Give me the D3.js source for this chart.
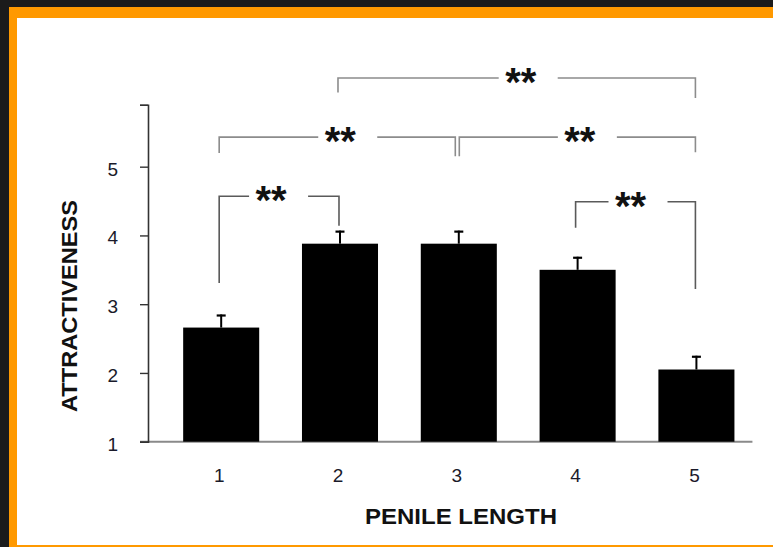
<!DOCTYPE html>
<html><head><meta charset="utf-8">
<script src="https://cdn.jsdelivr.net/npm/d3@7"></script>
<style>html,body{margin:0;padding:0;background:#1b1b1b;}svg{display:block;}</style>
</head><body>
<script>
const categories = ["1","2","3","4","5"];
const values = [2.66, 3.88, 3.88, 3.50, 2.05];
const errors = [0.19, 0.19, 0.19, 0.19, 0.20];
const yTicks = [1, 2, 3, 4, 5];
const xLabel = "PENILE LENGTH";
const yLabel = "ATTRACTIVENESS";
// significance brackets: from category, to category, bracket level, leg ends
const brFrom   = ["2", "1", "3", "1", "4"];
const brTo     = ["5", "3", "5", "2", "5"];
const brLevel  = [6.29, 5.43, 5.43, 4.57, 4.49];
const brLegA   = [6.08, 5.20, 5.15, 3.31, 4.11];
const brLegB   = [6.00, 5.15, 5.21, 4.14, 3.22];
const brLabel  = ["**", "**", "**", "**", "**"];

const W = 773, H = 547;
const svg = d3.select("body").append("svg").attr("width", W).attr("height", H);
svg.append("rect").attr("width", W).attr("height", H).attr("fill", "#1b1b1b");
svg.append("rect").attr("x", 9).attr("y", 7).attr("width", W - 9).attr("height", H - 7).attr("fill", "#ff9900");
svg.append("rect").attr("x", 17).attr("y", 18).attr("width", W - 17).attr("height", 527).attr("fill", "#ffffff");

const font = "'Liberation Sans', Arial, Helvetica, sans-serif";
const axisX = 148;
const x = d3.scaleBand().domain(categories).range([axisX, 769.6]).paddingInner(0.36).paddingOuter(0.296);
const y = d3.scaleLinear().domain([1, 5.9]).range([441.7, 104.8]);
const cx = c => x(c) + x.bandwidth() / 2;

// x axis baseline
svg.append("line").attr("x1", axisX - 8).attr("x2", cx("5") + x.bandwidth() / 2 + 18)
  .attr("y1", y(1)).attr("y2", y(1)).attr("stroke", "#8a8a8a").attr("stroke-width", 2);

// y axis
const yAxis = d3.axisLeft(y).tickValues(yTicks.concat([5.9])).tickSize(8).tickPadding(22)
  .tickFormat(d => yTicks.includes(d) ? d3.format("d")(d) : "");
const ga = svg.append("g").attr("transform", `translate(${axisX},0)`).call(yAxis);
ga.select(".domain").attr("stroke", "#333").attr("stroke-width", 1.6);
ga.selectAll(".tick line").attr("stroke", "#333").attr("stroke-width", 1.4);
ga.selectAll(".tick text").attr("font-family", font).attr("font-size", 19).attr("fill", "#1a1a2a").attr("dy", "0.45em");

// bars
svg.selectAll("rect.bar").data(categories).join("rect").attr("class", "bar")
  .attr("x", c => x(c)).attr("width", x.bandwidth())
  .attr("y", (c, i) => y(values[i])).attr("height", (c, i) => y(1) - y(values[i]))
  .attr("fill", "#000");

// error bars
categories.forEach((c, i) => {
  const top = y(values[i] + errors[i]);
  svg.append("line").attr("x1", cx(c)).attr("x2", cx(c)).attr("y1", y(values[i])).attr("y2", top)
    .attr("stroke", "#000").attr("stroke-width", 2);
  svg.append("line").attr("x1", cx(c) - 4.5).attr("x2", cx(c) + 4.5).attr("y1", top + 1).attr("y2", top + 1)
    .attr("stroke", "#000").attr("stroke-width", 2.2);
});

// x tick labels
svg.selectAll("text.xt").data(categories).join("text").attr("class", "xt")
  .attr("x", c => cx(c) - 2).attr("y", 482).attr("text-anchor", "middle")
  .attr("font-family", font).attr("font-size", 19).attr("fill", "#1a1a2a").text(c => c);

// axis titles
svg.append("text").attr("x", 461).attr("y", 523.5).attr("text-anchor", "middle")
  .attr("font-family", font).attr("font-weight", "bold").attr("font-size", 21.5).attr("fill", "#111")
  .attr("textLength", 192).attr("lengthAdjust", "spacingAndGlyphs").text(xLabel);
svg.append("text").attr("transform", "translate(77,306) rotate(-90)").attr("text-anchor", "middle")
  .attr("font-family", font).attr("font-weight", "bold").attr("font-size", 21.5).attr("fill", "#111")
  .attr("textLength", 212).attr("lengthAdjust", "spacingAndGlyphs").text(yLabel);

// significance brackets
const labelShift = [4, 3, 2.5, -8, -5];
brFrom.forEach((f, i) => {
  const t = brTo[i];
  let x1 = cx(f) - 2, x2 = cx(t) - 1;
  if (f === "3") x1 = cx(f) + 0.5;
  if (t === "3") x2 = cx(t) - 3.5;
  const yl = y(brLevel[i]);
  const sc = (x1 + x2) / 2 + labelShift[i];
  const col = i < 3 ? "#8c8c8c" : "#5a5a5a";
  const g = svg.append("g").attr("fill", "none").attr("stroke", col).attr("stroke-width", 1.6);
  g.append("path").attr("d", `M${x1},${y(brLegA[i])}V${yl}H${sc - 22}`);
  g.append("path").attr("d", `M${sc + 37},${yl}H${x2}V${y(brLegB[i])}`);
  svg.append("text").attr("x", sc).attr("y", yl + 18).attr("text-anchor", "middle")
    .attr("font-family", font).attr("font-weight", "bold").attr("font-size", 40).attr("fill", "#111")
    .text(brLabel[i]);
});
</script>
</body></html>
